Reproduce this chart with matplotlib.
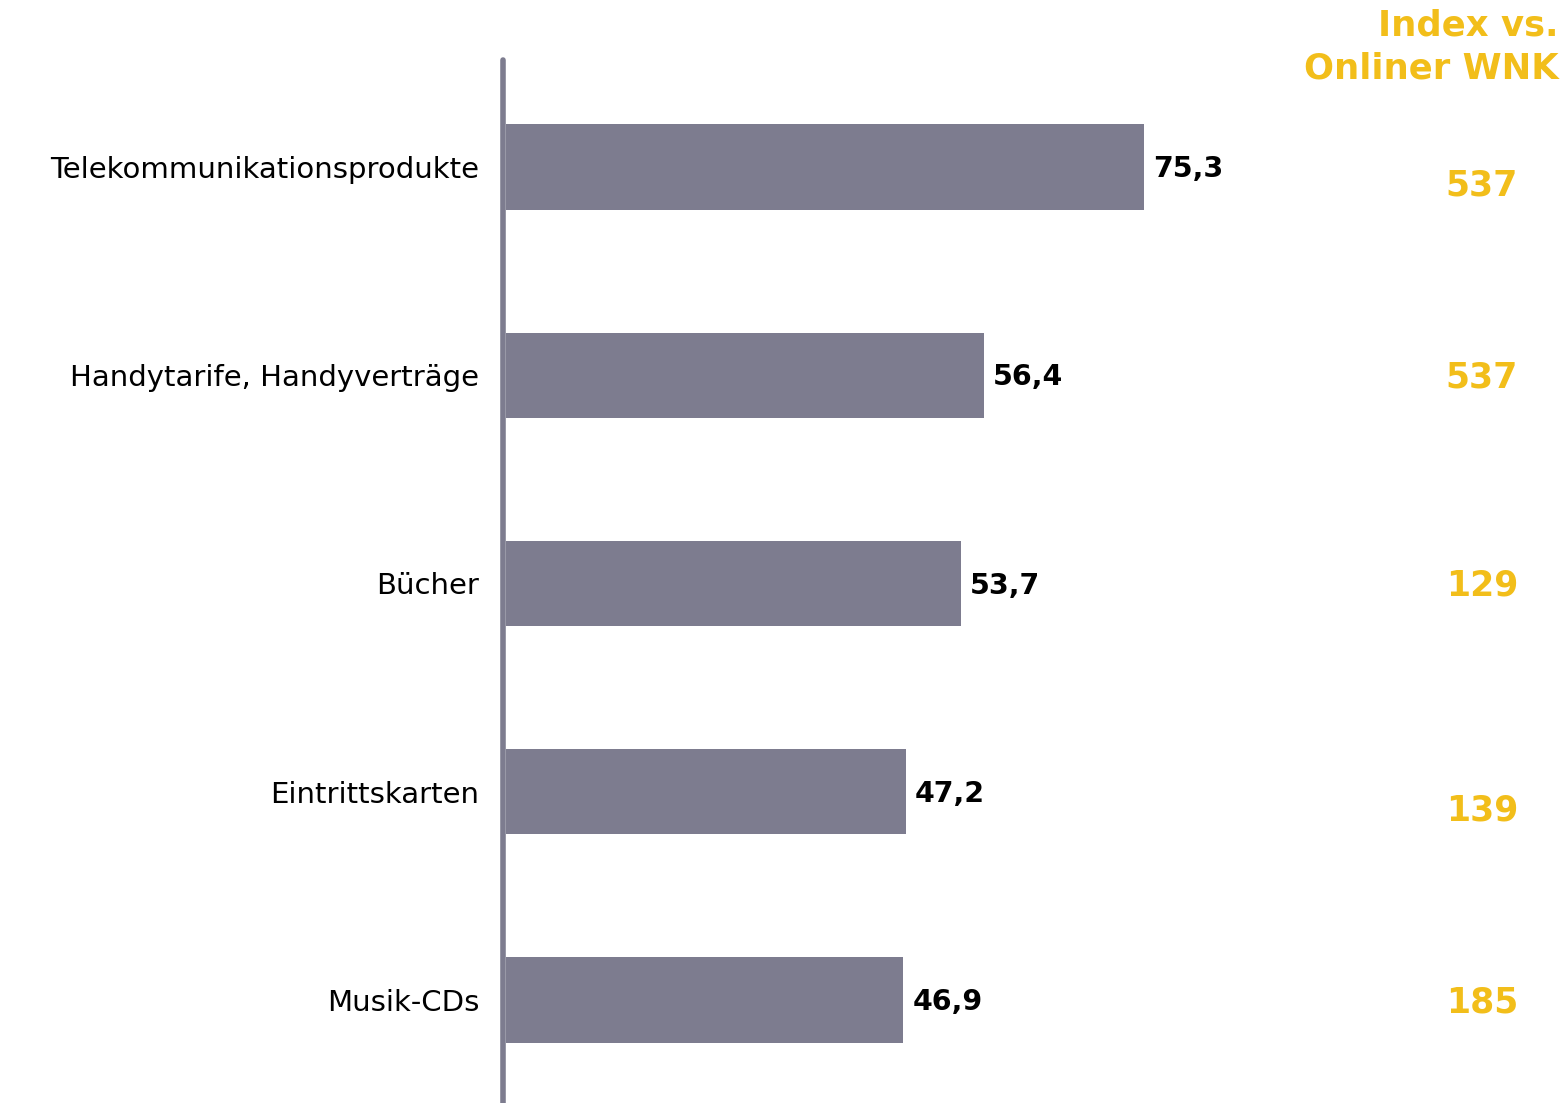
import matplotlib.pyplot as plt
import matplotlib.transforms as mtransforms

categories = [
    "Telekommunikationsprodukte",
    "Handytarife, Handyverträge",
    "Bücher",
    "Eintrittskarten",
    "Musik-CDs",
]
shares = [75.3, 56.4, 53.7, 47.2, 46.9]
index_wnk = [537, 537, 129, 139, 185]
index_title = "Index vs.\nOnliner WNK"

bar_color = "#7d7c8f"
gold = "#f2be1a"

# small vertical nudges for the index column
index_nudge = [0.09, 0.01, 0.01, 0.09, 0.01]


def fmt(v):
    return f"{v:.1f}".replace(".", ",")


def main():
    plt.rcParams["font.family"] = ["DejaVu Sans"]
    fig = plt.figure(figsize=(15.64, 11.03), dpi=100)
    ax = fig.add_axes([503 / 1564, 0.0, 1 - 503 / 1564, 1 - 60 / 1103])

    ypos = list(range(len(categories)))
    ax.barh(ypos, shares, height=0.41, color=bar_color, left=0.35)
    ax.set_xlim(0, 1061 / 8.47)
    ax.set_ylim(4.495, -0.514)

    for y, v in zip(ypos, shares):
        ax.text(v + 0.35 + 1.1, y + 0.01, fmt(v), va="center", ha="left",
                fontsize=20.5, fontweight="bold", color="black")

    # index column on the right
    trans = mtransforms.blended_transform_factory(ax.transAxes, ax.transData)
    for y, n, dy in zip(ypos, index_wnk, index_nudge):
        ax.text((1518 - 503) / 1061, y + dy, str(n), transform=trans,
                ha="right", va="center", fontsize=25, fontweight="bold",
                color=gold)
    fig.text(1559 / 1564, 1 - 9 / 1103, index_title, ha="right", va="top",
             fontsize=25.5, fontweight="bold", color=gold, linespacing=1.3)

    ax.set_yticks(ypos)
    ax.set_yticklabels(categories, fontsize=21)
    ax.tick_params(axis="y", length=0, pad=17)
    ax.set_xticks([])
    for side in ["top", "right", "bottom"]:
        ax.spines[side].set_visible(False)
    ax.spines["left"].set_color(bar_color)
    ax.spines["left"].set_linewidth(4)
    ax.spines["left"].set_capstyle("round")

    fig.savefig("out.png", dpi=100)


if __name__ == "__main__":
    main()
